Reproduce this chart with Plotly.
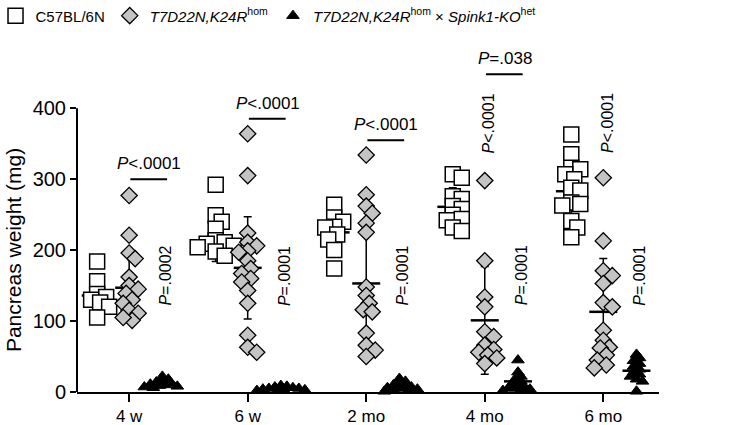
import plotly.graph_objects as go

# ---------------- data ----------------
categories = ["4 w", "6 w", "2 mo", "4 mo", "6 mo"]

wt_values = [
    [184, 156, 138, 134, 130, 126, 120, 105],
    [292, 249, 240, 230, 214, 211, 209, 206, 204, 198, 192],
    [264, 246, 240, 233, 232, 222, 215, 200, 174],
    [307, 302, 276, 272, 262, 258, 250, 244, 242, 232, 227],
    [363, 335, 316, 314, 307, 300, 288, 284, 267, 265, 263, 241, 232, 218],
]
hom_values = [
    [277, 221, 196, 188, 162, 150, 145, 139, 130, 125, 115, 111, 101, 105],
    [364, 305, 224, 211, 206, 199, 197, 185, 174, 167, 160, 155, 143, 125, 80, 63, 56],
    [334, 278, 262, 252, 238, 225, 148, 136, 125, 116, 113, 83, 66, 59, 50],
    [298, 185, 134, 120, 85, 78, 66, 60, 56, 52, 48, 40],
    [302, 213, 171, 164, 153, 126, 120, 87, 73, 63, 62, 52, 45, 38, 34],
]
ko_values = [
    [22, 18, 15, 14, 12, 11, 10, 9, 8, 7, 6],
    [9, 8, 7, 6, 5, 5, 4, 3, 3, 2, 2],
    [19, 15, 12, 10, 8, 7, 6, 5, 4, 3, 2, 1],
    [45, 28, 22, 18, 15, 12, 10, 8, 6, 5, 4, 3, 2],
    [53, 48, 44, 40, 36, 32, 28, 25, 22, 18, 15, 1],
]

wt_mean = [136, 212, 225, 261, 283]
wt_sd = [25, 28, 28, 27, 40]
hom_mean = [147, 175, 153, 101, 113]
hom_sd = [47, 72, 72, 76, 75]
ko_mean = [12, 5, 8, 15, 30]
ko_sd = [5, 2, 5, 12, 12]

# comparison labels
bracket_labels = ["<i>P</i>&lt;.0001", "<i>P</i>&lt;.0001", "<i>P</i>&lt;.0001", "<i>P</i>=.038", None]
bracket_levels = [300, 385, 355, 448, None]
ko_labels = ["<i>P</i>=.0002", "<i>P</i>=.0001", "<i>P</i>=.0001", "<i>P</i>=.0001", "<i>P</i>=.0001"]
hom_vertical_labels = [None, None, None, "<i>P</i>&lt;.0001", "<i>P</i>&lt;.0001"]

y_ticks = [0, 100, 200, 300, 400]

# ---------------- layout geometry ----------------
W, H = 750, 425
ML, MR, MT, MB = 77, 91, 55, 33
X_RANGE = [-0.44, 4.47]
Y_RANGE = [0, 475]
PX_PER_UNIT = (W - ML - MR) / (X_RANGE[1] - X_RANGE[0])
PX_PER_MG = (H - MT - MB) / (Y_RANGE[1] - Y_RANGE[0])

OFF_WT, OFF_HOM, OFF_KO = -0.27, 0.0, 0.28
FONT = "Arial, Liberation Sans, sans-serif"


def swarm(vals, center, d_px, step_px):
    placed = []
    res = [center] * len(vals)
    order = sorted(range(len(vals)), key=lambda i: -vals[i])
    for i in order:
        y = vals[i] * PX_PER_MG
        k = 0
        chosen = None
        while chosen is None:
            cands = [0.0] if k == 0 else [k * step_px, -k * step_px]
            for off in cands:
                if all((off - px) ** 2 + (y - py) ** 2 >= d_px ** 2 for px, py in placed):
                    chosen = off
                    break
            k += 1
        placed.append((chosen, y))
        res[i] = center + chosen / PX_PER_UNIT
    return res


fig = go.Figure()

series = [
    ("C57BL/6N", wt_values, wt_mean, wt_sd, OFF_WT,
     dict(symbol="square", size=15, color="white", line=dict(color="black", width=1.5)), 8, 22),
    ("<i>T7D22N,K24R</i><sup>hom</sup>", hom_values, hom_mean, hom_sd, OFF_HOM,
     dict(symbol="diamond", size=12.5, color="#c4c4c4", line=dict(color="black", width=1.3)), 8, 20),
    ("<i>T7D22N,K24R</i><sup>hom</sup> × <i>Spink1-KO</i><sup>het</sup>", ko_values, ko_mean, ko_sd, OFF_KO,
     dict(symbol="triangle-up", size=11, color="black", line=dict(color="black", width=1)), 4.5, 20),
]

# mean +/- SD (behind points)
for name, vals, mean, sd, off, mk, d, mlen in series:
    fig.add_trace(go.Scatter(
        x=[i + off for i in range(len(categories))], y=mean,
        mode="markers",
        marker=dict(symbol="line-ew", size=mlen, line=dict(color="black", width=2.5)),
        error_y=dict(type="data", array=sd, visible=True, color="black", thickness=1.5, width=4),
        showlegend=False, hoverinfo="skip", cliponaxis=False,
    ))

# individual points
for name, vals, mean, sd, off, mk, d, mlen in series:
    xs, ys = [], []
    for i, group in enumerate(vals):
        xs += swarm(group, i + off, d, 3)
        ys += group
    fig.add_trace(go.Scatter(x=xs, y=ys, mode="markers", name=name, marker=mk, cliponaxis=False))

# y axis line only up to 400
fig.add_shape(type="line", xref="paper", yref="paper", x0=0, x1=0, y0=0,
              y1=(y_ticks[-1] - Y_RANGE[0]) / (Y_RANGE[1] - Y_RANGE[0]),
              line=dict(color="black", width=2))

annotations = []
for i in range(len(categories)):
    if bracket_labels[i]:
        fig.add_shape(type="line", xref="x", yref="y", x0=i + 0.01, x1=i + 0.32,
                      y0=bracket_levels[i], y1=bracket_levels[i], line=dict(color="black", width=2))
        annotations.append(dict(x=i + 0.17, y=bracket_levels[i], xref="x", yref="y", text=bracket_labels[i],
                                showarrow=False, xanchor="center", yanchor="bottom", yshift=4,
                                font=dict(family=FONT, size=17, color="black")))
    annotations.append(dict(x=i + 0.31, y=164, xref="x", yref="y", text=ko_labels[i], showarrow=False,
                            xanchor="center", yanchor="middle",
                            textangle=-90, font=dict(family=FONT, size=16, color="black")))
    if hom_vertical_labels[i]:
        annotations.append(dict(x=i + 0.03, y=379, xref="x", yref="y", text=hom_vertical_labels[i],
                                showarrow=False, textangle=-90, xanchor="center", yanchor="middle",
                                font=dict(family=FONT, size=16, color="black")))

annotations.append(dict(x=-0.11, y=200, xref="paper", yref="y", text="Pancreas weight (mg)",
                        showarrow=False, textangle=-90, xanchor="center", yanchor="middle",
                        font=dict(family=FONT, size=21, color="black")))

fig.update_layout(
    width=W, height=H,
    margin=dict(l=ML, r=MR, t=MT, b=MB, autoexpand=False),
    plot_bgcolor="white", paper_bgcolor="white",
    font=dict(family=FONT, color="black"),
    annotations=annotations,
    legend=dict(orientation="h", x=-0.14, y=1.165, xanchor="left", yanchor="top",
                font=dict(family=FONT, size=15, color="black"), bgcolor="rgba(0,0,0,0)",
                tracegroupgap=0),
    xaxis=dict(range=X_RANGE, tickvals=list(range(len(categories))), ticktext=categories,
               showgrid=False, zeroline=False, showline=True, linecolor="black", linewidth=2,
               ticks="outside", ticklen=8, tickwidth=2, tickcolor="black",
               tickfont=dict(family=FONT, size=17, color="black")),
    yaxis=dict(range=Y_RANGE, tickvals=y_ticks, showgrid=False, zeroline=False, showline=False,
               ticks="outside", ticklen=6, tickwidth=2, tickcolor="black",
               tickfont=dict(family=FONT, size=20, color="black")),
)

fig.write_html("out.html", config={"displayModeBar": False},
               post_script="document.body.style.margin='0px';document.body.style.overflow='hidden';")
